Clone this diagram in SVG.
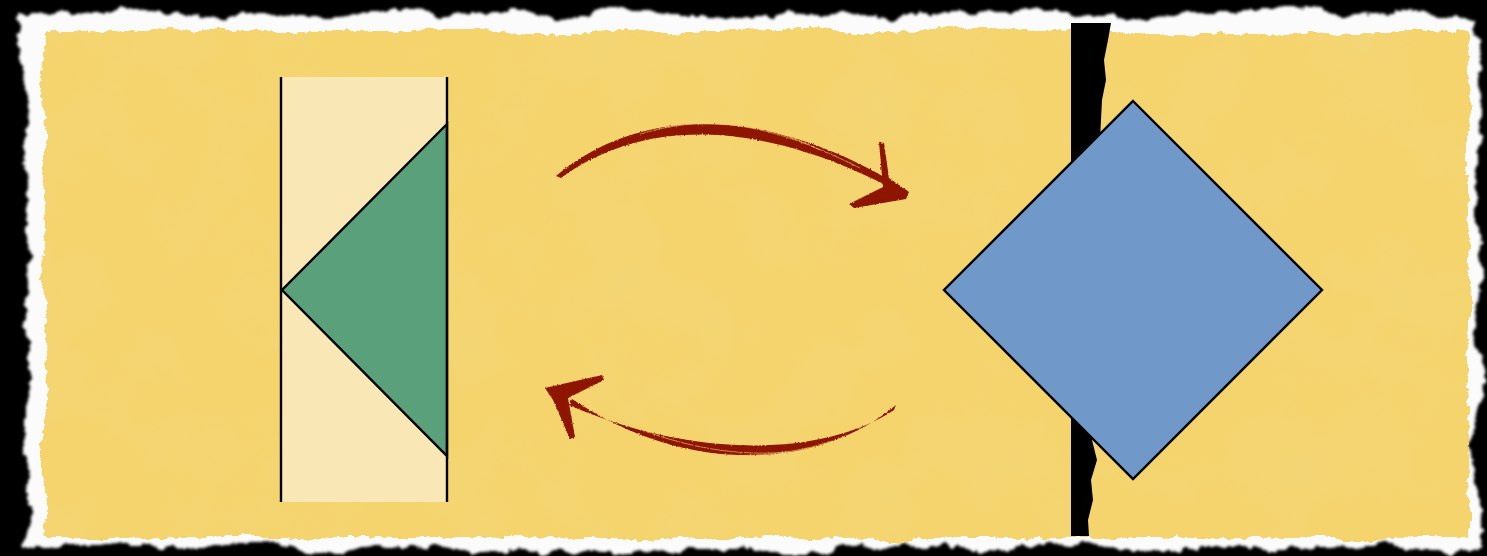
<svg xmlns="http://www.w3.org/2000/svg" width="1487" height="556" viewBox="0 0 1487 556">
<style>
.outline{stroke:#000;stroke-width:2.4;stroke-linejoin:miter}
.ink{fill:#8e1406}
.streak{fill:none;stroke:#f1cf6c;stroke-width:0.9;opacity:0.7}
</style>
<defs>
<filter id="tornWhite" x="-3%" y="-8%" width="106%" height="116%">
<feTurbulence type="fractalNoise" baseFrequency="0.012" numOctaves="2" seed="4" result="big"/>
<feDisplacementMap in="SourceGraphic" in2="big" scale="26" xChannelSelector="R" yChannelSelector="G" result="d1"/>
<feTurbulence type="fractalNoise" baseFrequency="0.06" numOctaves="4" seed="5" result="n"/>
<feDisplacementMap in="d1" in2="n" scale="12" xChannelSelector="R" yChannelSelector="G" result="d"/>
<feGaussianBlur in="d" stdDeviation="1.5"/>
</filter>
<filter id="paper" x="-3%" y="-8%" width="106%" height="116%">
<feTurbulence type="fractalNoise" baseFrequency="0.015" numOctaves="2" seed="9" result="big"/>
<feDisplacementMap in="SourceGraphic" in2="big" scale="16" xChannelSelector="R" yChannelSelector="G" result="d1"/>
<feTurbulence type="fractalNoise" baseFrequency="0.12" numOctaves="3" seed="11" result="n"/>
<feDisplacementMap in="d1" in2="n" scale="6" xChannelSelector="R" yChannelSelector="G" result="shape"/>
<feTurbulence type="fractalNoise" baseFrequency="0.012" numOctaves="4" seed="7" result="tex"/>
<feColorMatrix in="tex" type="matrix" values="0 0 0 0 0.85  0 0 0 0 0.7  0 0 0 0 0.25  0.5 0 0 0 -0.18" result="spots"/>
<feComposite in="spots" in2="shape" operator="in" result="sp"/>
<feMerge><feMergeNode in="shape"/><feMergeNode in="sp"/></feMerge>
</filter>
<filter id="rough" x="-5%" y="-5%" width="110%" height="110%">
<feTurbulence type="fractalNoise" baseFrequency="0.6" numOctaves="2" seed="2" result="n"/>
<feDisplacementMap in="SourceGraphic" in2="n" scale="2.5" xChannelSelector="R" yChannelSelector="G"/>
</filter>
</defs>

<g id="background">
<rect width="1487" height="556" fill="#000"/>
<rect x="24" y="14" width="1454" height="534" fill="#fbfbfb" filter="url(#tornWhite)"/>
<rect x="44" y="31" width="1424" height="507" fill="#f5d46d" filter="url(#paper)"/>
<path d="M1071,23 L1111,23 L1108,40 L1104,60 L1106,80 L1102,100 L1100,140 L1098,200 L1096,260 L1094,320 L1093,380 L1096,420 L1092,440 L1097,460 L1091,480 L1093,500 L1088,520 L1089,536 L1071,536 Z" fill="#000"/>
</g>

<g id="node-left">
<rect x="281" y="77" width="166" height="425" fill="#f9e8b6"/>
<polygon points="447,124 282,290 447,456" fill="#5aa07a" class="outline"/>
<line x1="281" y1="77" x2="281" y2="502" class="outline"/>
<line x1="447" y1="77" x2="447" y2="502" class="outline"/>
</g>

<g id="node-right">
<polygon points="1133,101 1322,290 1133,479 944,290" fill="#7098c9" class="outline"/>
</g>

<g id="connectors" filter="url(#rough)">
<g id="arrow-top">
<path class="ink" d="M556,176 C640,106 764,104 900,186 L899,192 C760,118 644,118 561,178 Z"/>
<path class="ink" d="M879,142 L884,143 L889,178 L909,192 L906,199 L854,208 L849,204 L883,187 Z"/>
<path class="streak" d="M640,134 C700,116 760,120 820,150"/>
<path class="streak" d="M700,124 C750,122 800,138 860,168"/>
</g>
<g id="arrow-bottom">
<path class="ink" d="M896,405 C822,468 690,478 572,399 L569,405 C690,458 822,458 894,410 Z"/>
<path class="ink" d="M602,375 L604,380 L568,398 L575,437 L570,439 L553,400 L545,388 Z"/>
<path class="streak" d="M600,413 C660,440 720,458 790,452"/>
<path class="streak" d="M720,455 C780,458 830,446 870,425"/>
</g>
</g>
</svg>
